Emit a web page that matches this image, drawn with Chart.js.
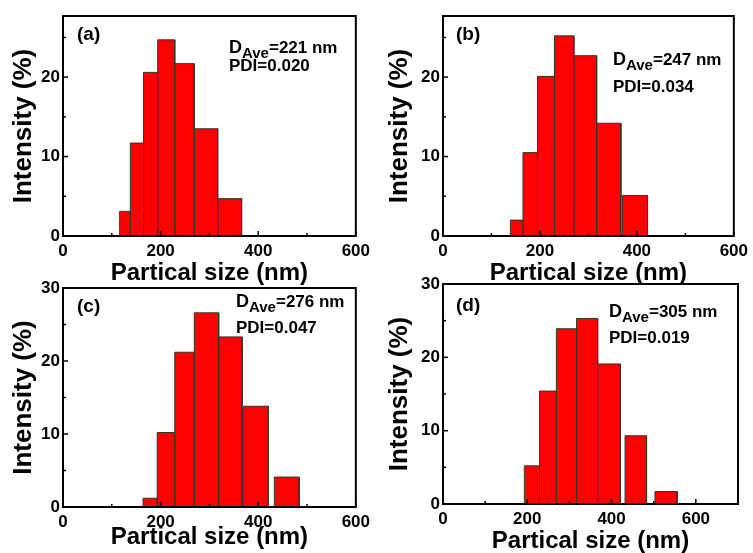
<!DOCTYPE html>
<html>
<head>
<meta charset="utf-8">
<script src="https://cdn.jsdelivr.net/npm/chart.js"></script>
<style>
  html, body { margin: 0; padding: 0; background: #fff; }
  #wrap { position: relative; width: 753px; height: 553px; overflow: hidden; }
  #wrap canvas { position: absolute; }
</style>
</head>
<body>
<div id="wrap">
  <canvas id="chartA"></canvas>
  <canvas id="chartB"></canvas>
  <canvas id="chartC"></canvas>
  <canvas id="chartD"></canvas>
</div>
<script>
// histogram bins (nm) and intensity (%)
const binLoA = [116, 138, 165, 194, 229, 269, 317];
const binHiA = [138, 165, 194, 229, 269, 317, 366];
const pctA   = [3.1, 11.7, 20.6, 24.7, 21.7, 13.5, 4.7];

const binLoB = [139, 165, 195, 230, 270, 317, 370];
const binHiB = [165, 195, 230, 270, 317, 367, 422];
const pctB   = [2.0, 10.5, 20.1, 25.2, 22.7, 14.2, 5.1];

const binLoC = [164, 193, 229, 269, 319, 370, 433];
const binHiC = [193, 229, 269, 319, 367, 421, 484];
const pctC   = [1.2, 10.2, 21.2, 26.6, 23.3, 13.8, 4.1];

const binLoD = [193, 229, 269, 317, 367, 432, 503];
const binHiD = [229, 269, 317, 367, 421, 483, 556];
const pctD   = [5.2, 15.4, 23.9, 25.3, 19.1, 9.3, 1.7];

const panelNames = ['(a)', '(b)', '(c)', '(d)'];
const dAveText   = ['221', '247', '276', '305'];
const pdiText    = ['0.020', '0.034', '0.047', '0.019'];
const xMaxes     = [600, 600, 600, 700];
const yMaxes     = [27.7, 27.7, 30, 30];

const FONT = '"Liberation Sans", Arial, sans-serif';

// where each canvas sits and how its axes are sized
const layout = [
  { id: 'chartA', left: 0,   top: 0,   w: 375, h: 285, padTop: 16, padRight: 16, yW: 63, xH: 49, titlePad: 0, lab: [14, 24], txt: [166, 37, 55] },
  { id: 'chartB', left: 376, top: 0,   w: 377, h: 285, padTop: 16, padRight: 15, yW: 67, xH: 49, titlePad: 0, lab: [13, 24], txt: [170, 49, 76] },
  { id: 'chartC', left: 0,   top: 270, w: 375, h: 283, padTop: 18, padRight: 16, yW: 63, xH: 46, titlePad: 4, lab: [14, 24], txt: [173, 19, 45] },
  { id: 'chartD', left: 376, top: 268, w: 377, h: 285, padTop: 16, padRight: 15, yW: 67, xH: 49, titlePad: 0, lab: [13, 27], txt: [166, 33, 59] }
];

const allLo  = [binLoA, binLoB, binLoC, binLoD];
const allHi  = [binHiA, binHiB, binHiC, binHiD];
const allPct = [pctA, pctB, pctC, pctD];

// outline of the bars as one closed path along the baseline
function barOutline(lo, hi, pct) {
  const pts = [];
  for (let i = 0; i < lo.length; i++) {
    pts.push({ x: lo[i], y: 0 }, { x: lo[i], y: pct[i] }, { x: hi[i], y: pct[i] }, { x: hi[i], y: 0 });
  }
  return pts;
}

// box frame plus inward ticks (majors labelled by the scales, minors in between)
const framePlugin = {
  id: 'frame',
  afterDraw(chart) {
    const { ctx, chartArea: a, scales: { x, y } } = chart;
    ctx.save();
    ctx.strokeStyle = '#000';
    ctx.lineWidth = 1.5;
    for (let v = 0; v <= x.max; v += 100) {
      const px = x.getPixelForValue(v);
      const len = v % 200 === 0 ? 5 : 3;
      ctx.beginPath(); ctx.moveTo(px, a.bottom); ctx.lineTo(px, a.bottom - len); ctx.stroke();
    }
    for (let v = 0; v <= y.max; v += 5) {
      const py = y.getPixelForValue(v);
      const len = v % 10 === 0 ? 5 : 3;
      ctx.beginPath(); ctx.moveTo(a.left, py); ctx.lineTo(a.left + len, py); ctx.stroke();
    }
    ctx.lineWidth = 2;
    ctx.strokeRect(a.left, a.top, a.right - a.left, a.bottom - a.top);
    ctx.restore();
  }
};

function textPlugin(i) {
  const L = layout[i];
  return {
    id: 'panelText',
    afterDraw(chart) {
      const { ctx, chartArea: a } = chart;
      ctx.save();
      ctx.fillStyle = '#000';
      ctx.textAlign = 'left';
      ctx.textBaseline = 'alphabetic';
      ctx.font = 'bold 19px ' + FONT;
      ctx.fillText(panelNames[i], a.left + L.lab[0], a.top + L.lab[1]);

      let tx = a.left + L.txt[0];
      const ty = a.top + L.txt[1];
      ctx.font = 'bold 18px ' + FONT;
      ctx.fillText('D', tx, ty);
      tx += ctx.measureText('D').width;
      ctx.font = 'bold 15px ' + FONT;
      ctx.fillText('Ave', tx, ty + 5);
      tx += ctx.measureText('Ave').width;
      ctx.font = 'bold 17px ' + FONT;
      ctx.fillText('=' + dAveText[i] + ' nm', tx, ty);
      ctx.fillText('PDI=' + pdiText[i], a.left + L.txt[0], a.top + L.txt[2]);
      ctx.restore();
    }
  };
}

function makePanel(i) {
  const L = layout[i];
  const canvas = document.getElementById(L.id);
  canvas.width = L.w;
  canvas.height = L.h;
  canvas.style.left = L.left + 'px';
  canvas.style.top = L.top + 'px';

  const tickFont = { family: FONT, size: 17, weight: 'bold' };
  const titleFont = { family: FONT, size: 24, weight: 'bold', lineHeight: 1 };

  new Chart(canvas, {
    type: 'line',
    data: {
      datasets: [{
        data: barOutline(allLo[i], allHi[i], allPct[i]),
        backgroundColor: '#ff0000',
        borderColor: '#333333',
        borderWidth: 1,
        fill: 'origin',
        pointRadius: 0,
        tension: 0
      }]
    },
    options: {
      responsive: false,
      animation: false,
      devicePixelRatio: 1,
      layout: { padding: { top: L.padTop, right: L.padRight, left: 0, bottom: 0 } },
      plugins: { legend: { display: false }, tooltip: { enabled: false } },
      scales: {
        x: {
          type: 'linear', min: 0, max: xMaxes[i],
          grid: { display: false, drawTicks: false },
          border: { display: false },
          ticks: { stepSize: 200, includeBounds: false, padding: 5, color: '#000', font: tickFont, maxRotation: 0, autoSkip: false },
          title: { display: true, text: 'Partical size (nm)', color: '#000', font: titleFont, padding: { top: 0, bottom: L.titlePad } },
          afterFit(s) { s.height = L.xH; }
        },
        y: {
          min: 0, max: yMaxes[i],
          grid: { display: false, drawTicks: false },
          border: { display: false },
          ticks: { stepSize: 10, includeBounds: false, padding: 3, color: '#000', font: tickFont },
          title: { display: true, text: 'Intensity (%)', color: '#000', font: { family: FONT, size: 26, weight: 'bold', lineHeight: 1 }, padding: { top: 11, bottom: 0 } },
          afterFit(s) { s.width = L.yW; }
        }
      }
    },
    plugins: [framePlugin, textPlugin(i)]
  });
}

for (let i = 0; i < 4; i++) makePanel(i);
</script>
</body>
</html>
